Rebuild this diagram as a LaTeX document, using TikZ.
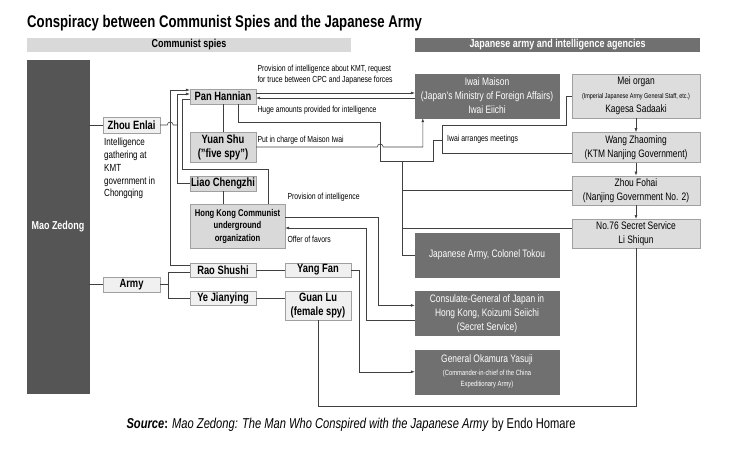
\documentclass[tikz,border=0pt]{standalone}
\usepackage{fontspec}
\setmainfont{Liberation Sans}[FakeStretch=0.78]
\usetikzlibrary{positioning, calc, arrows.meta}

\definecolor{maogray}{RGB}{85,85,85}
\definecolor{jpgray}{RGB}{112,112,112}
\definecolor{spyfill}{RGB}{217,217,217}
\definecolor{palefill}{RGB}{240,240,240}
\definecolor{jplight}{RGB}{221,221,221}
\definecolor{edgegray}{RGB}{160,160,160}
\definecolor{linegray}{RGB}{64,64,64}

\newcommand\fsz[2]{\fontsize{#1}{#2}\selectfont}

\begin{document}
\begin{tikzpicture}[
  x=1pt, y=-1pt,
  >={Latex[length=4pt, width=3pt]},
  link/.style   = {draw=linegray, line width=0.6pt},
  spy/.style    = {draw=edgegray, fill=spyfill, inner sep=0pt, align=center, font=\bfseries\fsz{12}{14}},
  pale/.style   = {draw=edgegray, fill=palefill, inner sep=0pt, align=center, font=\bfseries\fsz{12}{14},
                   minimum width=66pt, minimum height=14pt},
  jpdark/.style = {draw=jpgray, fill=jpgray, text=white, inner sep=0pt, align=center, font=\fsz{10.8}{14},
                   minimum width=144pt, minimum height=44pt},
  jplite/.style = {draw=edgegray, fill=jplight, inner sep=0pt, align=center, font=\fsz{10.8}{14},
                   minimum width=128pt},
  lbl/.style    = {inner sep=0pt, align=left, font=\fsz{8.8}{11}},
  bar/.style    = {inner sep=0pt, minimum height=14pt, font=\bfseries\fsz{11.5}{13}},
]
  \useasboundingbox (0,0) rectangle (730,450);

  % ---- title and column heads ----
  \node[inner sep=0pt, anchor=base west, font=\bfseries\fsz{16.9}{18}] (title) at (27,27)
    {Conspiracy between Communist Spies and the Japanese Army};
  \node[bar, fill=spyfill, minimum width=324pt] (headcp) at (189,45) {Communist spies};
  \node[bar, fill=jpgray, text=white, minimum width=285pt] (headjp) at (557.5,45)
    {Japanese army and intelligence agencies};

  % ---- communist side ----
  \node[draw=maogray, fill=maogray, text=white, minimum width=62pt, minimum height=333pt,
        font=\bfseries\fsz{11.5}{13}] (mao) at (58,226.5) {Mao Zedong};

  \node[pale, minimum width=57pt, minimum height=16pt] (zhou) at (131.5,125) {Zhou Enlai};
  \node[pale, minimum width=57pt, minimum height=15pt] (army) at (131.5,284.5) {Army};
  \node[inner sep=0pt, anchor=north west, align=left, font=\fsz{10.3}{12.8}] (zhounote) at (104,138)
    {Intelligence\\gathering at\\KMT\\government in\\Chongqing};

  \node[spy, minimum width=66pt, minimum height=15pt] (pan)  at (223,96.5)  {Pan Hannian};
  \node[spy, minimum width=66pt, minimum height=30pt] (yuan) at (223,147)   {Yuan Shu\\("five spy")};
  \node[spy, minimum width=66pt, minimum height=15pt] (liao) at (223,183.5) {Liao Chengzhi};
  \node[spy, minimum width=95pt, minimum height=44pt, font=\bfseries\fsz{9.8}{12.5}] (hk) at (237.5,226)
    {Hong Kong Communist\\underground\\organization};

  \node[pale] (rao)  at (223,270) {Rao Shushi};
  \node[pale] (ye)   at (223,298) {Ye Jianying};
  \node[pale] (yang) at (318,270) {Yang Fan};
  \node[pale, minimum height=29pt] (guan) at (318,305.5) {Guan Lu\\(female spy)};

  % ---- japanese side ----
  \node[jpdark] (iwai) at (487,96)
    {Iwai Maison\\(Japan’s Ministry of Foreign Affairs)\\Iwai Eiichi};
  \node[jplite, minimum height=44pt] (mei) at (636,96)
    {Mei organ\\{\fsz{7}{14}(Imperial Japanese Army General Staff, etc.)}\\Kagesa Sadaaki};
  \node[jplite, minimum height=30pt, below=14pt of mei]   (wang)  {Wang Zhaoming\\(KTM Nanjing Government)};
  \node[jplite, minimum height=29pt, below=13pt of wang]  (fohai) {Zhou Fohai\\(Nanjing Government No. 2)};
  \node[jplite, minimum height=29pt, below=14pt of fohai] (sec76) {No.76 Secret Service\\Li Shiqun};

  \node[jpdark] (tokou) at (487,255) {Japanese Army, Colonel Tokou};
  \node[jpdark, below=14pt of tokou] (consul)
    {Consulate-General of Japan in\\Hong Kong, Koizumi Seiichi\\(Secret Service)};
  \node[jpdark, below=14pt of consul] (okamura)
    {General Okamura Yasuji\\[-1pt]{\fsz{7.5}{11}(Commander-in-chief of the China}\\[-3pt]{\fsz{7.5}{11}Expeditionary Army)}};

  \coordinate (jpbend) at (380,122);
  \coordinate (jphub)  at (402,161);
  \coordinate (meetL)  at (442,125);

  % ---- links on the left ----
  \draw[link] (mao.east |- zhou.west) -- (zhou.west);
  \draw[link] (mao.east |- army.west) -- (army.west);
  \draw[link] (zhou.east) -- ++(7,0) arc[start angle=180, end angle=0, radius=3pt] -- ++(4,0);
  \draw[link, ->] ([yshift=5pt]rao.west) -- ++(-20,0) |- ([yshift=6.5pt]pan.west);
  \draw[link, ->] (liao.west) -- ++(-13,0) |- ([yshift=2.5pt]pan.west);
  \draw[link] ([yshift=-2.5pt]pan.west) -- ++(-8,0)
    |- ([xshift=-17pt, yshift=35pt]hk.north east) -- ([xshift=-17pt]hk.north east);
  \draw[link] (army.east) -- ++(8,0) coordinate (armyfork);
  \draw[link] ([yshift=-2pt]rao.west) -| (armyfork) |- (ye.west);

  \draw[link] (pan.south) -- (yuan.north);
  \draw[link] (liao.south) -- (liao.south |- hk.north);
  \draw[link] (rao.east) -- (yang.west);
  \draw[link] (ye.east) -- (ye.east -| guan.west);

  % ---- links across ----
  \draw[link, ->] ([yshift=3.5pt]pan.east)
    -- node[lbl, pos=0, anchor=south west, xshift=1pt, yshift=8pt] (lbltruce)
       {Provision of intelligence about KMT, request\\for truce between CPC and Japanese forces}
    ([yshift=3.5pt]pan.east -| iwai.west);
  \draw[link, ->] ([yshift=-1.5pt]pan.east -| iwai.west)
    -- node[lbl, pos=1, anchor=north west, xshift=1pt, yshift=-8pt] (lblmoney)
       {Huge amounts provided for intelligence}
    ([yshift=-1.5pt]pan.east);
  \draw[link, ->] (yuan.east)
    -- node[lbl, pos=0, anchor=south west, xshift=1pt, yshift=2pt] (lblcharge) {Put in charge of Maison Iwai}
    ++(121,0) arc[start angle=180, end angle=0, radius=3pt] -| ([xshift=8pt]iwai.south west);

  \draw[link] ([xshift=15pt]pan.south) |- (jpbend) |- ([xshift=31pt]jphub) |- ([yshift=-15pt]meetL);
  \draw[link] (mei.west) -- ++(-6,0) |- (meetL) |- ([yshift=-6pt]wang.west);
  \node[lbl, anchor=west] (lblmeet) at ([xshift=5pt, yshift=-14pt]meetL) {Iwai arranges meetings};
  \draw[link] (jphub) |- (tokou.west);
  \draw[link] (jphub |- fohai.west) -- (fohai.west);
  \draw[link] ([yshift=5.5pt]sec76.west) -- ++(-170,0);

  \draw[link, ->] (mei) -- (wang);
  \draw[link, ->] (wang) -- (fohai);
  \draw[link, ->] (fohai) -- (sec76);
  \draw[link] (sec76.south) |- ([yshift=-86pt]guan.south) -- (guan.south);

  \draw[link, ->] (yang.east) -- ++(8,0) |- (okamura.west);
  \draw[link, ->] ([yshift=9pt]hk.east)
    -- node[lbl, pos=0, anchor=south west, xshift=2pt, yshift=15pt] (lblintel) {Provision of intelligence}
    ++(93,0) |- ([yshift=8pt]consul.west);
  \draw[link, ->] ([yshift=-7pt]consul.west) -- ++(-49,0)
    |- node[lbl, pos=1, anchor=north west, xshift=2pt, yshift=-8pt] (lblfavor) {Offer of favors}
    ([yshift=-2pt]hk.east);

  % ---- source line ----
  \node[inner sep=0pt, anchor=base, font=\fsz{14.3}{16}] (source) at (351,428)
    {\textbf{\textit{Source}:} \textit{Mao Zedong: The Man Who Conspired with the Japanese Army} by Endo Homare};
\end{tikzpicture}
\end{document}
